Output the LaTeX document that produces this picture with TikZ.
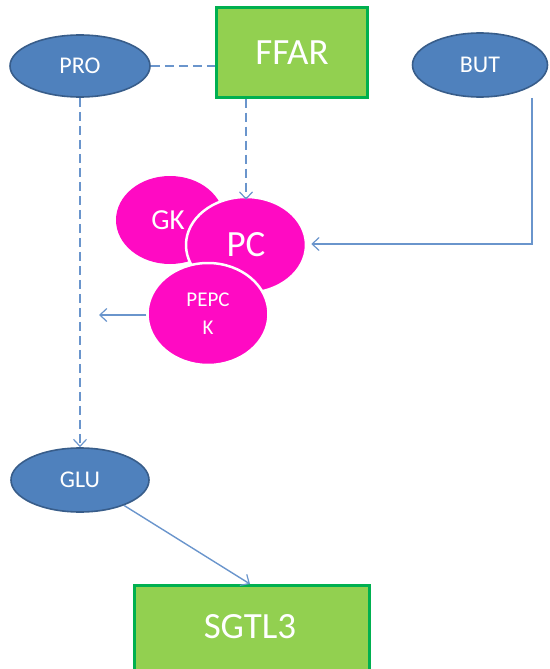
\documentclass[tikz,border=0pt]{standalone}
\usepackage{fontspec}
\setmainfont{Carlito}
\usetikzlibrary{shapes.geometric,arrows.meta}
\definecolor{blueF}{HTML}{4F81BD}
\definecolor{blueD}{HTML}{385D8A}
\definecolor{lineB}{HTML}{6A95CC}
\definecolor{magF}{RGB}{255,10,195}
\definecolor{greenF}{HTML}{92D050}
\definecolor{greenD}{HTML}{00B050}
\tikzset{
  oval/.style={ellipse, draw=blueD, line width=1.6pt, fill=blueF, text=white, inner sep=0pt, font=\fontsize{24}{26}\selectfont},
  gbox/.style={rectangle, draw=greenD, line width=3pt, fill=greenF, text=white, inner sep=0pt},
  enz/.style={ellipse, fill=magF, text=white, inner sep=0pt},
  enzw/.style={enz, draw=white, line width=2.5pt},
  conn/.style={draw=lineB, line width=1.4pt},
  dconn/.style={conn, dash pattern=on 9pt off 5pt},
  tip/.style={-{Straight Barb[length=7pt,width=13pt,line width=1.2pt]}}
}
\begin{document}
\begin{tikzpicture}[x=1pt,y=-1pt]
\useasboundingbox (0,0) rectangle (549,669);
% nodes
\node[oval, minimum width=140pt, minimum height=62pt] (PRO) at (80,66) {PRO};
\node[oval, minimum width=135pt, minimum height=64pt] (BUT) at (480,65) {BUT};
\node[oval, minimum width=138pt, minimum height=64pt] (GLU) at (80,480) {GLU};
\node[gbox, minimum width=151pt, minimum height=89pt, font=\fontsize{37}{40}\selectfont] (FFAR) at (292,52.5) {FFAR};
\node[gbox, minimum width=235pt, minimum height=100pt, anchor=north] (SGTL) at (251.5,584) {};
\node[text=white, font=\fontsize{37}{40}\selectfont] (SGTLt) at (250,627) {SGTL3};
\node[enz, minimum width=108pt, minimum height=88pt, font=\fontsize{29}{30}\selectfont] (GK) at (170,220) {\hspace{-4pt}GK};
\node[enzw, minimum width=120pt, minimum height=96pt, font=\fontsize{37}{40}\selectfont] (PC) at (246,245) {PC};
\node[enzw, minimum width=121pt, minimum height=102pt, align=center, font=\fontsize{21}{28}\selectfont] (PEPCK) at (208,314) {PEPC\\K};
% connectors
\draw[dconn] (PRO.east) -- (FFAR.west |- PRO.east);
\draw[dconn, tip] (PRO.south) -- (GLU.north);
\draw[dconn, tip] (PC.north |- FFAR.south) -- ([yshift=-4pt]PC.north);
\coordinate (butc) at (532,244);
\draw[conn, tip] (BUT.south -| butc) -- (butc) -- ([xshift=4pt]PC.east |- butc);
\coordinate (pepcend) at (99,315);
\draw[conn, tip] (PEPCK.west |- pepcend) -- (pepcend);
\draw[conn, tip] (GLU.-30) -- (SGTL.north -| 250,0);
\end{tikzpicture}
\end{document}
